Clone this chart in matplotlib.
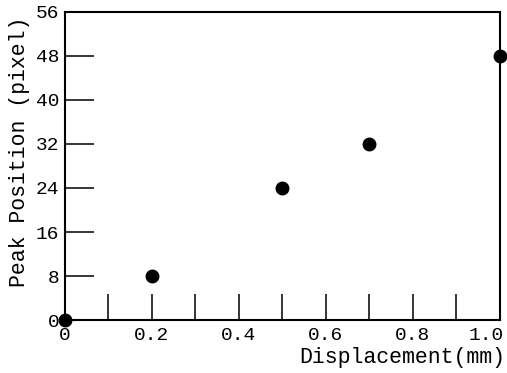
import numpy as np
import matplotlib.pyplot as plt
from matplotlib.ticker import MultipleLocator
from matplotlib.transforms import ScaledTranslation

# datos
desplazamiento = [0.0, 0.2, 0.5, 0.7, 1.0]
pico = [0, 8, 24, 32, 48]
yticks = [0, 8, 16, 24, 32, 40, 48, 56]
xticks = [0, 0.2, 0.4, 0.6, 0.8, 1.0]
xlabels = ["0", "0.2", "0.4", "0.6", "0.8", "1.0"]

plt.rcParams['font.family'] = ['Liberation Mono', 'DejaVu Sans Mono']

fig = plt.figure(figsize=(5.07, 3.73), dpi=100)
ax = fig.add_axes([0.128, 0.142, 0.858, 0.826])

ax.plot(desplazamiento, pico, 'o', color='black', markersize=9, clip_on=False, zorder=5)

ax.set_xlim(0, 1.0)
ax.set_ylim(0, 56)
ax.set_yticks(yticks)
ax.set_xticks(xticks)
ax.set_xticklabels(xlabels)
ax.xaxis.set_minor_locator(MultipleLocator(0.1))

ax.tick_params(axis='y', direction='in', length=21, width=1.1, labelsize=14, pad=4)
ax.tick_params(axis='x', which='both', direction='in', length=19, width=1.1, labelsize=14, pad=5)
for s in ax.spines.values():
    s.set_linewidth(1.5)

# la ultima etiqueta se mueve un poco para que no se corte
ultima = ax.get_xticklabels()[-1]
ultima.set_transform(ultima.get_transform() + ScaledTranslation(-14/100, 0, fig.dpi_scale_trans))

# etiquetas de los ejes
fig.text(20/507, 1-152/373, "Peak Position (pixel)", rotation=90, ha='center', va='center', fontsize=15.5)
fig.text(505/507, 1-357/373, "Displacement(mm)", ha='right', va='center', fontsize=15.5)

fig.savefig("out.png", dpi=100)
